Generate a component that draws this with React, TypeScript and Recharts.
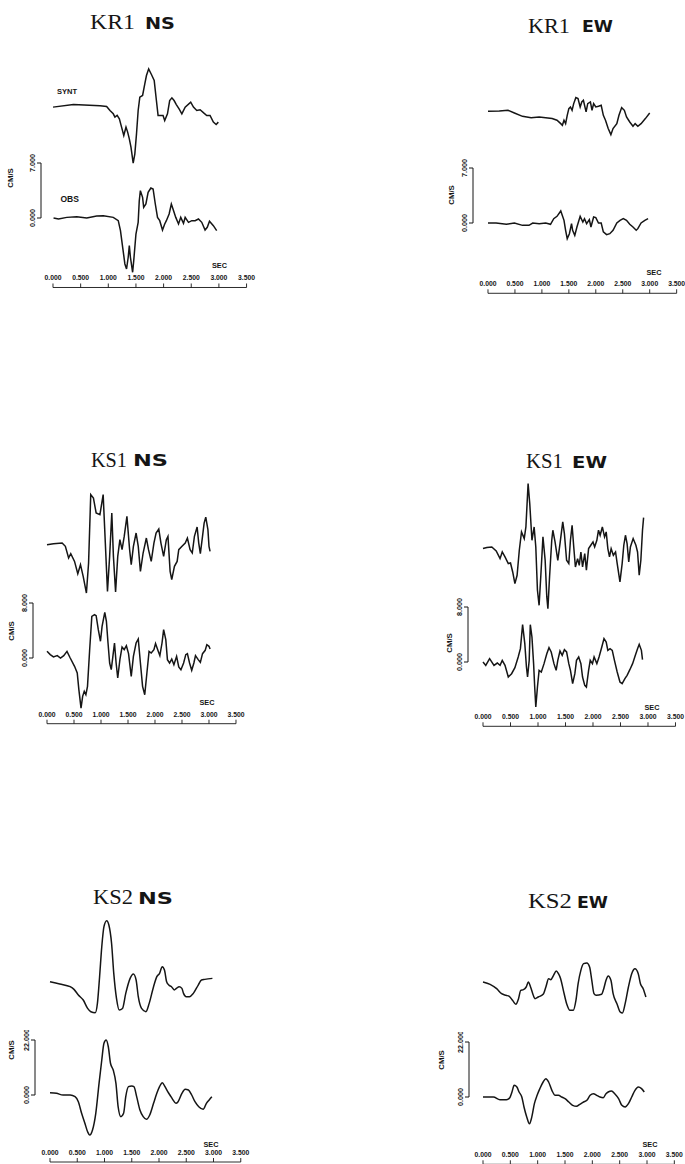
import React from 'react';
import { LineChart, Line, XAxis, YAxis } from 'recharts';

// ---------- tick labels / scales ----------
const timeTicks = [0, 0.5, 1, 1.5, 2, 2.5, 3, 3.5];
const scaleKR1 = 7;
const scaleKS1 = 8;
const scaleKS2 = 22;

// ---------- KR1 NS ----------
const kr1nsSyntT = [0, 0.37, 0.85, 0.97, 1.03, 1.09, 1.12, 1.16, 1.2, 1.24, 1.28, 1.32, 1.35, 1.38, 1.41, 1.45, 1.48, 1.51, 1.54, 1.57, 1.62, 1.66, 1.69, 1.73, 1.78, 1.83, 1.87, 1.9, 1.95, 1.99, 2.02, 2.07, 2.11, 2.15, 2.19, 2.23, 2.28, 2.33, 2.39, 2.49, 2.54, 2.6, 2.66, 2.73, 2.78, 2.84, 2.9, 2.95, 2.99];
const kr1nsSyntV = [-0.08, 0.25, 0.08, 0, -0.51, -0.93, -1.36, -1.14, -1.57, -2.63, -3.69, -2.63, -3.26, -4.11, -5.17, -7.21, -6.02, -3.48, -0.51, 1.19, 1.4, 2.88, 3.94, 4.79, 4.07, 3.31, 0.76, -1.14, -1.14, -1.14, -1.78, -0.93, 0.76, 1.1, 0.76, 0.25, -0.3, -0.93, -0.08, 0.55, -0.08, -0.51, -0.42, -0.85, -1.14, -1.14, -1.99, -2.29, -1.99];
const kr1nsObsT = [0.01, 0.1, 0.25, 0.43, 0.61, 0.79, 0.91, 1.09, 1.18, 1.22, 1.26, 1.3, 1.33, 1.36, 1.38, 1.4, 1.44, 1.46, 1.5, 1.54, 1.56, 1.58, 1.62, 1.64, 1.68, 1.72, 1.77, 1.81, 1.85, 1.89, 1.93, 1.98, 2.02, 2.05, 2.1, 2.14, 2.17, 2.22, 2.27, 2.31, 2.36, 2.39, 2.45, 2.51, 2.57, 2.63, 2.69, 2.75, 2.79, 2.83, 2.9, 2.96];
const kr1nsObsV = [0, -0.13, 0.08, 0.17, 0, 0.25, 0.3, 0.08, -0.34, -1.61, -3.73, -5.85, -6.49, -5.0, -3.52, -5.0, -6.91, -5.43, -2.04, -0.55, 2.2, 3.48, 2.63, 1.36, 1.78, 3.26, 3.82, 3.69, 1.78, 0.08, -0.34, -1.53, -0.76, -0.34, 0.51, 1.78, 1.14, 0.08, -0.76, 0.08, -0.68, 0.08, -0.55, -0.34, -0.34, -0.13, -0.55, -1.53, -1.19, -0.42, -0.98, -1.61];

// ---------- KR1 EW ----------
const kr1ewSyntT = [0, 0.21, 0.37, 0.49, 0.64, 0.8, 0.95, 1.07, 1.19, 1.28, 1.35, 1.38, 1.41, 1.44, 1.47, 1.5, 1.53, 1.56, 1.59, 1.63, 1.67, 1.71, 1.74, 1.77, 1.82, 1.85, 1.9, 1.93, 1.96, 2.0, 2.05, 2.1, 2.14, 2.18, 2.23, 2.28, 2.32, 2.39, 2.43, 2.48, 2.53, 2.57, 2.63, 2.69, 2.73, 2.78, 2.84, 2.92, 3.0];
const kr1ewSyntV = [0, 0.04, 0.13, -0.21, -0.64, -0.81, -0.72, -0.81, -0.93, -1.14, -1.57, -1.78, -1.14, -1.57, -0.51, 0.34, 0.55, 0.13, 0.98, 1.74, 1.61, 0.55, 1.19, 1.4, -0.08, 0.98, 1.19, 0.13, 0.98, 0.55, 0.64, 0.76, -0.51, -1.14, -2.2, -2.97, -2.2, -1.57, -0.51, 0.47, 0.13, -0.72, -1.36, -1.91, -1.57, -1.91, -1.57, -0.93, -0.21];
const kr1ewObsT = [0, 0.15, 0.34, 0.49, 0.64, 0.76, 0.83, 0.95, 1.07, 1.16, 1.22, 1.28, 1.35, 1.41, 1.44, 1.47, 1.51, 1.55, 1.57, 1.61, 1.65, 1.71, 1.76, 1.79, 1.83, 1.88, 1.91, 1.96, 2.0, 2.05, 2.1, 2.14, 2.2, 2.26, 2.32, 2.39, 2.45, 2.51, 2.57, 2.63, 2.69, 2.75, 2.78, 2.84, 2.91, 2.97];
const kr1ewObsV = [0, 0, -0.17, 0, -0.3, -0.3, 0, -0.08, 0, -0.17, 0.55, 0.85, 1.53, 0.34, -0.93, -1.99, -1.36, -0.08, -0.93, -1.57, -0.51, 0.85, 0.13, 0.55, -0.08, 0.42, -0.51, 0.76, 0.68, 0, 0, -1.14, -1.48, -1.36, -0.93, 0, 0.34, 0.55, 0.34, -0.17, -0.51, -0.93, -0.72, 0, 0.34, 0.55];

// ---------- KS1 NS ----------
const ks1nsSyntT = [0, 0.12, 0.28, 0.34, 0.4, 0.44, 0.51, 0.57, 0.62, 0.67, 0.73, 0.77, 0.81, 0.86, 0.91, 0.98, 1.04, 1.08, 1.12, 1.16, 1.2, 1.23, 1.27, 1.31, 1.35, 1.39, 1.43, 1.48, 1.53, 1.56, 1.6, 1.65, 1.69, 1.73, 1.78, 1.84, 1.88, 1.93, 1.98, 2.02, 2.07, 2.11, 2.16, 2.21, 2.24, 2.28, 2.31, 2.36, 2.41, 2.44, 2.5, 2.56, 2.6, 2.65, 2.69, 2.73, 2.78, 2.81, 2.84, 2.88, 2.91, 2.94, 2.98, 3.0, 3.02];
const ks1nsSyntV = [0, 0.15, 0.24, -0.24, -1.94, -1.31, -2.43, -4.22, -2.91, -4.61, -7.03, -2.67, 7.28, 6.79, 4.61, 4.37, 7.28, 0.24, -6.79, -1.7, 4.61, -1.7, -6.89, -1.7, 0.73, -0.73, 1.21, 4.12, -0.73, -2.91, -0.24, 1.7, -0.24, -3.88, -1.21, 0.97, -0.73, -2.43, 0.24, 1.7, 2.28, 0.24, -1.7, 0.73, 1.21, -3.88, -5.09, -3.15, -2.43, -0.73, -0.24, 0.24, 0.97, -0.73, -1.21, 1.21, 2.57, 0.24, -1.31, 1.21, 3.15, 4.01, 2.18, -0.24, -0.97];
const ks1nsObsT = [0, 0.06, 0.12, 0.19, 0.25, 0.31, 0.37, 0.43, 0.51, 0.56, 0.59, 0.63, 0.66, 0.69, 0.72, 0.75, 0.79, 0.83, 0.88, 0.91, 0.95, 0.99, 1.02, 1.07, 1.1, 1.13, 1.16, 1.19, 1.22, 1.25, 1.28, 1.31, 1.35, 1.39, 1.43, 1.47, 1.51, 1.56, 1.6, 1.65, 1.69, 1.73, 1.77, 1.81, 1.85, 1.89, 1.93, 1.98, 2.01, 2.06, 2.09, 2.13, 2.16, 2.2, 2.23, 2.27, 2.31, 2.35, 2.4, 2.44, 2.48, 2.53, 2.57, 2.6, 2.64, 2.68, 2.72, 2.75, 2.8, 2.84, 2.88, 2.93, 2.96, 3.0, 3.02];
const ks1nsObsV = [0.97, 0.49, 0.15, 0.34, 0, 0.34, 0.97, 0, -1.21, -2.18, -4.61, -7.28, -5.58, -4.85, -5.34, -4.12, 1.21, 6.06, 6.31, 6.16, 4.12, 2.43, 4.61, 6.64, 5.34, 2.18, -0.73, -1.7, 0.24, 2.18, -0.73, -2.91, -0.24, 1.6, 1.21, 1.79, 0.63, -2.67, 0.24, 2.18, 2.76, -0.73, -4.12, -5.34, -2.18, 0.97, 0.73, 1.21, 2.09, 0.97, 0.34, 2.18, 4.12, 2.67, -0.24, -0.73, -0.15, -0.97, 0.24, -1.31, -1.7, -0.73, 0.49, 0.63, -0.73, -1.79, -0.73, 0.34, -0.24, -0.63, 0.63, 1.12, 1.94, 1.7, 1.31];

// ---------- KS1 EW ----------
const ks1ewSyntT = [0, 0.07, 0.16, 0.24, 0.31, 0.35, 0.4, 0.46, 0.5, 0.54, 0.58, 0.62, 0.66, 0.7, 0.75, 0.78, 0.82, 0.85, 0.89, 0.93, 0.96, 0.99, 1.02, 1.05, 1.09, 1.13, 1.16, 1.18, 1.21, 1.25, 1.27, 1.31, 1.36, 1.4, 1.45, 1.48, 1.52, 1.56, 1.59, 1.62, 1.65, 1.68, 1.72, 1.75, 1.78, 1.81, 1.85, 1.88, 1.92, 1.96, 2.0, 2.03, 2.07, 2.1, 2.13, 2.17, 2.21, 2.24, 2.27, 2.3, 2.33, 2.37, 2.41, 2.44, 2.49, 2.53, 2.56, 2.59, 2.62, 2.65, 2.68, 2.73, 2.78, 2.81, 2.84, 2.87, 2.9, 2.92];
const ks1ewSyntV = [0, 0.15, 0.24, -0.34, -1.46, -0.49, -1.21, -2.18, -2.09, -3.4, -5.09, -3.88, -0.24, 2.43, 1.46, 3.15, 9.46, 6.55, 1.21, 3.15, 0.24, -6.06, -8.25, -4.12, 1.7, -1.7, -7.03, -8.73, -4.12, 1.21, 2.67, 0.97, -1.7, 0.73, 3.88, 2.18, -1.7, -2.18, 1.21, 3.4, 0.24, -2.67, -1.46, -2.43, -0.49, -2.67, -0.73, -3.15, 0, 0.49, 0.97, 0.24, 1.21, 2.67, 1.94, 3.15, 1.7, 2.43, 0, -1.21, 0, -0.97, -0.49, -2.18, -4.85, -2.18, 0.49, 1.94, 0.73, -1.94, 0.24, 1.46, 0.49, -0.49, -3.88, -1.7, 2.67, 4.51];
const ks1ewObsT = [0, 0.05, 0.12, 0.2, 0.26, 0.31, 0.35, 0.4, 0.46, 0.52, 0.58, 0.64, 0.68, 0.72, 0.76, 0.79, 0.81, 0.84, 0.86, 0.89, 0.92, 0.94, 0.96, 0.99, 1.02, 1.06, 1.11, 1.16, 1.2, 1.24, 1.29, 1.33, 1.36, 1.4, 1.44, 1.48, 1.52, 1.56, 1.59, 1.63, 1.67, 1.7, 1.74, 1.78, 1.81, 1.85, 1.88, 1.92, 1.95, 1.99, 2.02, 2.07, 2.11, 2.16, 2.2, 2.24, 2.27, 2.31, 2.35, 2.39, 2.44, 2.49, 2.53, 2.58, 2.62, 2.67, 2.72, 2.77, 2.81, 2.84, 2.88, 2.9];
const ks1ewObsV = [0, -0.49, 0.49, -0.49, -0.15, -0.49, 0.24, -0.49, -2.18, -1.7, -0.82, 0.73, 1.94, 5.43, 2.67, -0.73, -2.18, 0.24, 5.43, 3.64, -0.24, -3.64, -6.55, -3.64, -1.21, -1.46, -0.24, 1.21, 2.09, 1.46, -0.24, -1.21, 0.24, 1.6, 0.97, 1.79, 1.46, -0.24, -1.21, -3.15, -1.7, 0.24, 0.73, -0.24, -2.18, -3.4, -3.64, -1.21, 0.24, -0.24, 0.73, -0.24, 0.73, 2.18, 3.4, 2.91, 1.7, 1.94, 1.7, 0.24, -1.46, -2.91, -3.15, -2.43, -1.94, -1.12, -0.24, 0.97, 1.94, 2.57, 1.7, 0.34];

// ---------- KS2 NS ----------
const ks2nsSyntT = [0, 0.18, 0.37, 0.44, 0.52, 0.61, 0.69, 0.75, 0.83, 0.87, 0.91, 0.95, 0.99, 1.04, 1.08, 1.13, 1.17, 1.22, 1.27, 1.33, 1.39, 1.47, 1.53, 1.58, 1.62, 1.68, 1.76, 1.82, 1.9, 1.96, 2.01, 2.06, 2.1, 2.14, 2.18, 2.23, 2.28, 2.32, 2.37, 2.42, 2.45, 2.5, 2.56, 2.63, 2.72, 2.78, 2.84, 2.98];
const ks2nsSyntV = [0, -0.93, -2.0, -3.07, -5.33, -7.33, -10.66, -12.0, -12.4, -8.67, 2.0, 14.0, 22.0, 24.4, 22.7, 15.3, 3.33, -6.67, -11.3, -10.7, -4.67, 1.33, 3.07, 0.67, -6.0, -10.7, -12.0, -8.67, -2.0, 2.0, 3.33, 6.0, 4.67, 0, -1.33, -2.0, -3.33, -2.67, -2.0, -2.67, -4.67, -6.0, -6.0, -4.67, -1.33, 0.67, 0.93, 1.33];
const ks2nsObsT = [0, 0.12, 0.24, 0.37, 0.46, 0.52, 0.58, 0.64, 0.69, 0.73, 0.78, 0.84, 0.9, 0.95, 0.99, 1.03, 1.07, 1.11, 1.16, 1.21, 1.25, 1.3, 1.35, 1.39, 1.44, 1.5, 1.54, 1.59, 1.65, 1.71, 1.77, 1.83, 1.9, 1.96, 2.01, 2.06, 2.11, 2.16, 2.2, 2.25, 2.31, 2.35, 2.42, 2.48, 2.54, 2.6, 2.66, 2.73, 2.81, 2.87, 2.92, 2.97];
const ks2nsObsV = [0.93, 0.67, 0, 0, -0.67, -2.67, -7.33, -11.3, -14.7, -16.0, -14.0, -7.33, 4.67, 14.0, 20.7, 22.0, 19.3, 12.7, 10.0, 4.67, -4.67, -8.67, -7.33, -0.67, 3.33, 3.6, 3.33, -0.67, -6.0, -8.67, -9.73, -8.0, -3.33, 0.67, 3.33, 4.93, 3.33, 1.33, 0, -1.73, -3.33, -2.67, 0.67, 2.27, 2.0, 0, -2.67, -4.67, -5.73, -3.33, -2.0, -0.67];

// ---------- KS2 EW ----------
const ks2ewSyntT = [0, 0.13, 0.25, 0.34, 0.42, 0.48, 0.54, 0.6, 0.65, 0.69, 0.74, 0.79, 0.83, 0.87, 0.91, 0.95, 1.01, 1.1, 1.15, 1.2, 1.24, 1.29, 1.34, 1.38, 1.42, 1.47, 1.53, 1.59, 1.65, 1.7, 1.74, 1.79, 1.84, 1.9, 1.95, 1.99, 2.03, 2.07, 2.17, 2.2, 2.25, 2.29, 2.34, 2.38, 2.45, 2.51, 2.55, 2.6, 2.66, 2.72, 2.78, 2.84, 2.88, 2.93, 2.98];
const ks2ewSyntV = [0, -0.93, -2.67, -4.67, -5.33, -5.73, -7.33, -8.93, -6.67, -3.33, -3.07, -2.0, 0, -2.0, -4.67, -6.67, -6.0, -4.93, -2.0, 1.33, 0.93, 2.67, 4.4, 3.33, 1.33, -3.33, -8.67, -11.3, -11.3, -7.33, -0.67, 4.67, 7.33, 7.6, 6.0, 0.67, -4.67, -5.33, -4.93, -3.33, 0.67, 2.4, 0.67, -4.67, -8.67, -12.0, -12.4, -8.67, -2.0, 3.33, 5.33, 3.33, -0.67, -2.67, -6.0];
const ks2ewObsT = [0, 0.19, 0.31, 0.43, 0.49, 0.53, 0.57, 0.62, 0.66, 0.71, 0.75, 0.8, 0.85, 0.89, 0.94, 0.99, 1.04, 1.1, 1.15, 1.2, 1.26, 1.32, 1.38, 1.44, 1.5, 1.57, 1.64, 1.71, 1.77, 1.84, 1.9, 1.96, 2.02, 2.08, 2.14, 2.2, 2.25, 2.29, 2.35, 2.41, 2.48, 2.54, 2.6, 2.66, 2.72, 2.78, 2.84, 2.9, 2.95];
const ks2ewObsV = [0, 0, -1.07, -1.07, -0.27, 2.0, 4.67, 4.0, 2.0, 0, -4.0, -8.0, -10.7, -8.27, -2.67, 0.67, 3.33, 6.0, 7.33, 6.0, 2.67, 0.67, 0.67, 0, -0.67, -2.0, -3.33, -3.73, -2.93, -2.0, -1.33, 0.67, 1.33, 0.67, 0, -0.27, 1.33, 2.0, 2.4, 1.33, -0.67, -3.33, -4.0, -2.67, 0, 2.67, 4.0, 3.33, 2.0];

// ---------- presentation ----------
const INK = '#151515';
const SANS = "'Liberation Sans', Arial, Helvetica, sans-serif";
const SERIF = "'Liberation Serif', 'Times New Roman', serif";
const WIDE = "'DejaVu Sans', Verdana, sans-serif";
const BAR_PX = 55;

type Panel = {
  station: string;
  comp: string;
  scale: number;
  syntT: number[];
  syntV: number[];
  obsT: number[];
  obsV: number[];
  t0x: number;
  k: number;
  obs0: number;
  gap: number;
  axisY: number;
  barX: number;
  curve: 'linear' | 'monotone';
  sx: number;
  sw: number;
  sBase: number;
  cx: number;
  cw: number;
  cBase: number;
  cm: [number, number];
  sec: [number, number];
};

const panels: Panel[] = [
  { station: 'KR1', comp: 'NS', scale: scaleKR1, syntT: kr1nsSyntT, syntV: kr1nsSyntV, obsT: kr1nsObsT, obsV: kr1nsObsV,
    t0x: 53, k: 55.3, obs0: 217.5, gap: 111.5, axisY: 287, barX: 40.5, curve: 'linear',
    sx: 90, sw: 45, sBase: 29, cx: 145, cw: 30, cBase: 28.5, cm: [10.5, 178], sec: [219.5, 268] },
  { station: 'KR1', comp: 'EW', scale: scaleKR1, syntT: kr1ewSyntT, syntV: kr1ewSyntV, obsT: kr1ewObsT, obsV: kr1ewObsV,
    t0x: 488.3, k: 53.9, obs0: 222.7, gap: 111.7, axisY: 293, barX: 473, curve: 'linear',
    sx: 528, sw: 42, sBase: 33, cx: 582, cw: 31, cBase: 31.5, cm: [451, 195], sec: [654, 275] },
  { station: 'KS1', comp: 'NS', scale: scaleKS1, syntT: ks1nsSyntT, syntV: ks1nsSyntV, obsT: ks1nsObsT, obsV: ks1nsObsV,
    t0x: 46.7, k: 54, obs0: 658.3, gap: 113.3, axisY: 724, barX: 32.5, curve: 'linear',
    sx: 91, sw: 36, sBase: 467, cx: 133, cw: 35, cBase: 466, cm: [11, 631], sec: [207, 705] },
  { station: 'KS1', comp: 'EW', scale: scaleKS1, syntT: ks1ewSyntT, syntV: ks1ewSyntV, obsT: ks1ewObsT, obsV: ks1ewObsV,
    t0x: 483, k: 55, obs0: 661.7, gap: 113.4, axisY: 726, barX: 468.3, curve: 'linear',
    sx: 526, sw: 37, sBase: 468, cx: 572, cw: 35, cBase: 468, cm: [449.5, 643], sec: [652, 710] },
  { station: 'KS2', comp: 'NS', scale: scaleKS2, syntT: ks2nsSyntT, syntV: ks2nsSyntV, obsT: ks2nsObsT, obsV: ks2nsObsV,
    t0x: 50, k: 54.5, obs0: 1095, gap: 113.3, axisY: 1162, barX: 35, curve: 'monotone',
    sx: 93, sw: 40, sBase: 904, cx: 138, cw: 35, cBase: 904, cm: [11.5, 1050], sec: [211, 1147] },
  { station: 'KS2', comp: 'EW', scale: scaleKS2, syntT: ks2ewSyntT, syntV: ks2ewSyntV, obsT: ks2ewObsT, obsV: ks2ewObsV,
    t0x: 483, k: 54.67, obs0: 1096.7, gap: 115, axisY: 1164, barX: 469, curve: 'monotone',
    sx: 528, sw: 44, sBase: 908, cx: 577, cw: 31, cBase: 908, cm: [441.5, 1060], sec: [650, 1147] },
];

function buildRows(p: Panel, offset: number) {
  const rows: { t: number; synt?: number; obs?: number }[] = [];
  p.syntT.forEach((t, i) => rows.push({ t, synt: p.syntV[i] + offset }));
  p.obsT.forEach((t, i) => rows.push({ t, obs: p.obsV[i] }));
  rows.sort((a, b) => a.t - b.t);
  return rows;
}

const RotatedTick = (props: any) => {
  const { x, y, payload } = props;
  return (
    <text x={x} y={y} transform={`rotate(-90 ${x} ${y})`} textAnchor="middle" fontSize={7.2} fontWeight={700} fill={INK} fontFamily={SANS}>
      {Number(payload.value).toFixed(3)}
    </text>
  );
};

function Traces({ p }: { p: Panel }) {
  const ppu = BAR_PX / p.scale;
  const plotTop = p.obs0 - 200;
  const plotH = p.axisY - plotTop;
  const yMax = (p.obs0 - plotTop) / ppu;
  const yMin = -(p.axisY - p.obs0) / ppu;
  const rows = buildRows(p, p.gap / ppu);
  const mL = 22;
  const mR = 22;
  const mB = 3;
  const plotW = 3.5 * p.k;
  return (
    <div style={{ position: 'absolute', left: p.t0x - mL, top: plotTop }}>
      <LineChart width={plotW + mL + mR} height={plotH + mB} data={rows} margin={{ top: 0, right: mR, bottom: mB, left: mL }}>
        <XAxis
          type="number"
          dataKey="t"
          domain={[0, 3.5]}
          ticks={timeTicks}
          interval={0}
          orientation="bottom"
          mirror
          tickSize={4}
          tickMargin={3}
          tickFormatter={(v: number) => v.toFixed(3)}
          tick={{ fontSize: 6.8, fontWeight: 700, fill: INK, fontFamily: SANS }}
          stroke={INK}
          strokeWidth={0.9}
        />
        <YAxis hide type="number" domain={[yMin, yMax]} />
        <Line dataKey="synt" type={p.curve} stroke={INK} strokeWidth={1.5} dot={false} connectNulls isAnimationActive={false} />
        <Line dataKey="obs" type={p.curve} stroke={INK} strokeWidth={1.5} dot={false} connectNulls isAnimationActive={false} />
      </LineChart>
    </div>
  );
}

function ScaleBar({ p }: { p: Panel }) {
  const yW = 40;
  const barData = [{ t: 0, v: 0 }, { t: 1, v: 0 }];
  return (
    <div style={{ position: 'absolute', left: p.barX - yW, top: p.obs0 - BAR_PX - 10 }}>
      <LineChart width={yW + 12} height={BAR_PX + 20} data={barData} margin={{ top: 10, right: 12, bottom: 10, left: 0 }}>
        <XAxis hide type="number" dataKey="t" domain={[0, 1]} />
        <YAxis
          type="number"
          domain={[0, p.scale]}
          ticks={[0, p.scale]}
          interval={0}
          width={yW}
          tickSize={4}
          tickMargin={2.5}
          stroke={INK}
          strokeWidth={1}
          tick={RotatedTick}
        />
        <Line dataKey="v" stroke="none" dot={false} isAnimationActive={false} />
      </LineChart>
    </div>
  );
}

export default function App() {
  return (
    <div style={{ position: 'absolute', left: 0, top: 0, width: 685, height: 1164, overflow: 'hidden', background: '#ffffff' }}>
      {panels.map((p) => (
        <React.Fragment key={p.station + p.comp}>
          <Traces p={p} />
          <ScaleBar p={p} />
        </React.Fragment>
      ))}
      <svg width={685} height={1164} style={{ position: 'absolute', left: 0, top: 0, pointerEvents: 'none' }}>
        {panels.map((p) => (
          <g key={'lbl' + p.station + p.comp} fill={INK}>
            <text x={p.sx} y={p.sBase} fontFamily={SERIF} fontSize={21} textLength={p.sw} lengthAdjust="spacingAndGlyphs">
              {p.station}
            </text>
            <text x={p.cx} y={p.cBase} fontFamily={WIDE} fontWeight={700} fontSize={15} textLength={p.cw} lengthAdjust="spacingAndGlyphs">
              {p.comp}
            </text>
            <text
              x={p.cm[0]}
              y={p.cm[1]}
              transform={`rotate(-90 ${p.cm[0]} ${p.cm[1]})`}
              textAnchor="middle"
              dominantBaseline="central"
              fontFamily={SANS}
              fontWeight={700}
              fontSize={7.8}
            >
              CM/S
            </text>
            <text x={p.sec[0]} y={p.sec[1]} textAnchor="middle" fontFamily={SANS} fontWeight={700} fontSize={7.3}>
              SEC
            </text>
          </g>
        ))}
        <text x={57} y={94} fontFamily={SANS} fontWeight={700} fontSize={7.5} fill={INK}>SYNT</text>
        <text x={60.5} y={202} fontFamily={SANS} fontWeight={700} fontSize={8.5} fill={INK}>OBS</text>
      </svg>
    </div>
  );
}
